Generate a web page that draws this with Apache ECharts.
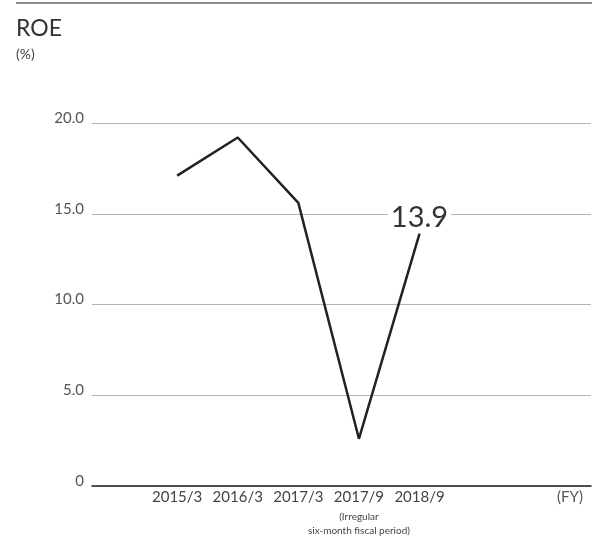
<!DOCTYPE html>
<html>
<head>
<meta charset="utf-8">
<script src="https://cdn.jsdelivr.net/npm/echarts@6/dist/echarts.min.js"></script>
<style>
  html, body { margin: 0; padding: 0; background: #fff; }
  #chart { width: 592px; height: 540px; }
</style>
</head>
<body>
<div id="chart"></div>
<script>
  // 数据
  var periods = ['2015/3', '2016/3', '2017/3', '2017/9', '2018/9']
  var roeValues = [17.1, 19.2, 15.6, 2.6, 13.9]
  var yTicks = [0, 5, 10, 15, 20]
  var noteIndex = 3
  var irregularNote = '(Irregular\nsix-month fiscal period)'

  var chart = echarts.init(document.getElementById('chart'))
  var fontFamily = 'Lato, "DejaVu Sans", sans-serif'

  var points = roeValues.map(function (v, i) { return [i, v] })
  var xMin = -1.405
  var xMax = 6.83

  chart.setOption({
    animation: false,
    textStyle: { fontFamily: fontFamily },
    // 顶部分隔线
    graphic: [{
      type: 'line',
      shape: { x1: 16, y1: 3, x2: 592, y2: 3 },
      style: { stroke: '#666', lineWidth: 1.5 }
    }],
    title: {
      text: 'ROE',
      subtext: '(%)',
      left: 11,
      top: 12,
      itemGap: 7,
      textStyle: { color: '#333', fontSize: 23, fontWeight: 'normal', fontFamily: fontFamily },
      subtextStyle: { color: '#444', fontSize: 14, fontFamily: fontFamily }
    },
    grid: {
      left: 92,
      right: 1,
      top: 123,
      bottom: 54
    },
    xAxis: [{
      type: 'value',
      min: xMin,
      max: xMax,
      name: '(FY)',
      nameLocation: 'end',
      nameGap: -34,
      nameTextStyle: {
        color: '#555',
        fontSize: 15,
        verticalAlign: 'top',
        padding: [4, 0, 0, 0]
      },
      axisLine: { show: true, lineStyle: { color: '#222', width: 1.5 } },
      axisTick: { show: false },
      splitLine: { show: false },
      axisLabel: {
        customValues: periods.map(function (p, i) { return i }),
        hideOverlap: false,
        margin: 4,
        color: '#444',
        fontSize: 15,
        formatter: function (v) { return periods[Math.round(v)] }
      }
    }, {
      // 注释（不规则的六个月会计期间）
      type: 'value',
      position: 'bottom',
      min: xMin,
      max: xMax,
      axisLine: { show: false },
      axisTick: { show: false },
      splitLine: { show: false },
      axisLabel: {
        customValues: [noteIndex],
        margin: 24,
        color: '#444',
        fontSize: 10,
        lineHeight: 14,
        formatter: function () { return irregularNote }
      }
    }],
    yAxis: {
      type: 'value',
      min: yTicks[0],
      max: yTicks[yTicks.length - 1],
      interval: yTicks[1] - yTicks[0],
      axisLine: { show: false },
      axisTick: { show: false },
      axisLabel: {
        margin: 8,
        color: '#555',
        fontSize: 15,
        lineHeight: 10,
        verticalAlign: 'bottom',
        formatter: function (v) { return v === 0 ? '0' : v.toFixed(1) }
      },
      splitLine: {
        show: true,
        lineStyle: { color: '#b4b4b4', width: 1 }
      }
    },
    series: [{
      type: 'line',
      data: points,
      showSymbol: false,
      symbol: 'none',
      lineStyle: { color: '#222', width: 2.5 },
      z: 3,
      markPoint: {
        symbol: 'rect',
        symbolSize: 0,
        data: [{ coord: points[points.length - 1] }],
        label: {
          show: true,
          position: 'top',
          distance: 2,
          formatter: function () { return roeValues[roeValues.length - 1].toFixed(1) },
          color: '#333',
          fontSize: 29,
          backgroundColor: '#fff',
          padding: [0, 3, 0, 3]
        }
      }
    }]
  })
</script>
</body>
</html>
